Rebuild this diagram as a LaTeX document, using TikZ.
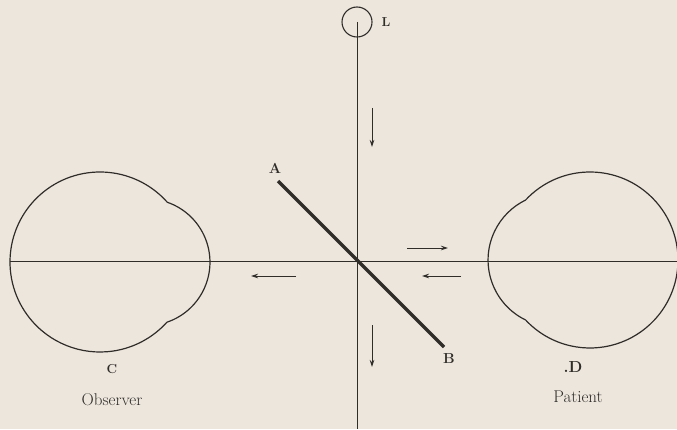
\documentclass[tikz,border=0pt]{standalone}
\usetikzlibrary{arrows.meta}
\definecolor{paper}{RGB}{236,230,221}
\definecolor{ink}{RGB}{48,44,40}
\begin{document}
\begin{tikzpicture}[x=1pt,y=1pt,
  thinline/.style={draw=ink,line width=0.9pt},
  eyeline/.style={draw=ink,line width=1.2pt},
  mirror/.style={draw=ink,line width=3.4pt},
  ray/.style={draw=ink,line width=0.9pt,-{Stealth[length=7pt,width=4.5pt]}},
  letter/.style={text=ink,font=\bfseries\fontsize{14.5}{14.5}\selectfont,inner sep=0pt},
  caption/.style={text=ink,font=\fontsize{17}{17}\selectfont,inner sep=0pt}]
  % page
  \fill[paper] (0,0) rectangle (677,429);
  \useasboundingbox (0,0) rectangle (677,429);
  \clip (0,0) rectangle (677,429);

  % lamp and the vertical axis starting from its centre
  \node[draw=ink,line width=1.1pt,circle,minimum size=30pt,inner sep=0pt] (lamp) at (357,407) {};
  \coordinate (vbottom) at (357,0);
  \draw[thinline] (lamp.center) -- (vbottom);
  \node[letter,font=\bfseries\fontsize{13}{13}\selectfont] (L) at (386,407) {L};

  % horizontal axis through both eyes
  \coordinate (hleft) at (10,168);
  \coordinate (hright) at (677,168);
  \draw[thinline] (hleft) -- (hright);

  % observer's eye: globe with the cornea bulging to the right
  \draw[eyeline] (100,167) ++(42:90) arc[start angle=42,end angle=318,radius=90]
    arc[start angle=-71.3,end angle=71.3,radius=63.4];

  % patient's eye: globe with the cornea bulging to the left
  \draw[eyeline] (590,169) ++(137:88) arc[start angle=137,end angle=-137,radius=88]
    arc[start angle=244.1,end angle=115.9,radius=66.7];

  % mirror A--B
  \coordinate (mA) at (278,248);
  \coordinate (mB) at (444,82);
  \draw[mirror] (mA) -- (mB);
  \node[letter] (A) at (275,261) {A};
  \node[letter] (B) at (449,70) {B};

  % direction of the light
  \coordinate (d1s) at (372,321); \coordinate (d1e) at (372,282);
  \coordinate (d2s) at (372,104); \coordinate (d2e) at (372,62);
  \coordinate (r1s) at (407,181); \coordinate (r1e) at (448,181);
  \coordinate (l1s) at (461,153); \coordinate (l1e) at (422,153);
  \coordinate (l2s) at (296,153); \coordinate (l2e) at (251,153);
  \draw[ray] (d1s) -- (d1e);
  \draw[ray] (d2s) -- (d2e);
  \draw[ray] (r1s) -- (r1e);
  \draw[ray] (l1s) -- (l1e);
  \draw[ray] (l2s) -- (l2e);

  % labels under the eyes
  \node[letter,font=\bfseries\fontsize{13}{13}\selectfont] (C) at (112,60) {C};
  \node[letter,font=\bfseries\fontsize{16}{16}\selectfont] (D) at (573,62) {.D};
  \node[caption] (obs) at (112,29) {Observer};
  \node[caption] (pat) at (578,32) {Patient};
\end{tikzpicture}
\end{document}
